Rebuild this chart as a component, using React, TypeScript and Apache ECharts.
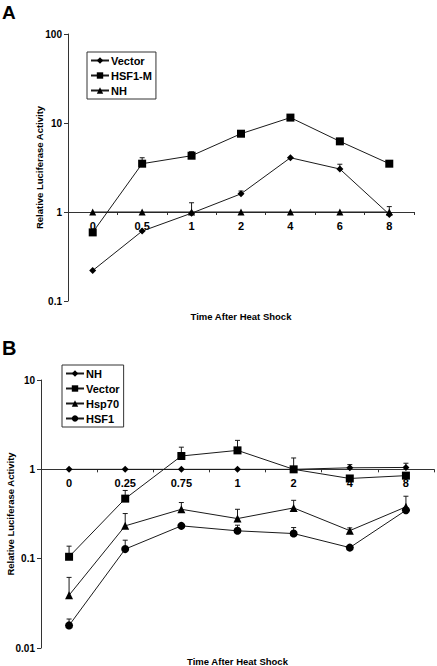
import React, { useEffect, useRef } from "react";
import * as echarts from "echarts";

// Panel A
const catsA = ["0", "0.5", "1", "2", "4", "6", "8"];
const vectorA = [0.22, 0.61, 0.97, 1.6, 4.07, 3.04, 0.94];
const vectorAErr = [null, null, 1.27, 1.72, null, 3.44, 1.15];
const hsf1mA = [0.59, 3.49, 4.29, 7.58, 11.5, 6.22, 3.49];
const hsf1mAErr = [null, 4.07, 4.76, null, null, null, null];
const nhA = [1, 1, 1, 1, 1, 1, 1];

// Panel B
const catsB = ["0", "0.25", "0.75", "1", "2", "4", "8"];
const nhB = [1, 1, 1, 1, 1, 1.04, 1.05];
const nhBErr = [null, null, null, null, null, 1.13, 1.17];
const vectorB = [0.105, 0.47, 1.41, 1.63, 1.0, 0.79, 0.85];
const vectorBErr = [0.138, 0.58, 1.77, 2.11, 1.34, null, null];
const hsp70B = [0.039, 0.233, 0.357, 0.281, 0.37, 0.206, 0.38];
const hsp70BErr = [0.0617, 0.32, 0.425, 0.357, 0.45, 0.221, 0.5];
const hsf1B = [0.0179, 0.128, 0.233, 0.205, 0.191, 0.133, 0.348];
const hsf1BErr = [0.0211, 0.161, null, 0.237, 0.223, null, null];

const FONT = "'Liberation Sans', Arial, sans-serif";
const INK = "#1a1a1a";

function errData(vals: number[], tops: (number | null)[]) {
  const out: number[][] = [];
  tops.forEach((t, i) => {
    if (t != null) out.push([i, t, vals[i]]);
  });
  return out;
}

function errSeries(vals: number[], tops: (number | null)[]) {
  return {
    type: "custom",
    data: errData(vals, tops),
    encode: { x: 0, y: 1 },
    z: 1,
    silent: true,
    renderItem: (_p: any, api: any) => {
      const i = api.value(0);
      const a = api.coord([i, api.value(2)]);
      const b = api.coord([i, api.value(1)]);
      const st = { stroke: INK, lineWidth: 1 };
      return {
        type: "group",
        children: [
          { type: "line", shape: { x1: a[0], y1: a[1], x2: b[0], y2: b[1] }, style: st },
          { type: "line", shape: { x1: b[0] - 2.5, y1: b[1], x2: b[0] + 2.5, y2: b[1] }, style: st },
        ],
      };
    },
  };
}

function lineSeries(name: string, data: number[], symbol: string, size: number) {
  return {
    name,
    type: "line",
    data,
    symbol,
    symbolSize: size,
    z: 3,
    lineStyle: { color: INK, width: 1 },
    itemStyle: { color: "#000" },
    emphasis: { disabled: true },
  };
}

function baseOption(
  cats: string[],
  grid: { left: number; top: number; width: number; height: number },
  yMin: number,
  yMax: number,
  legendBox: { left: number; top: number },
  legendNames: string[],
  series: any[],
  xNameGap: number,
  yNameGap: number,
  letter: string,
  letterSize: number
) {
  const decades = Math.log10(yMax) - Math.log10(yMin);
  const onePos = (Math.log10(yMax) / decades) * grid.height;
  const offset = -(grid.height - onePos);
  return {
    animation: false,
    textStyle: { fontFamily: FONT },
    grid: { ...grid, containLabel: false, outerBoundsMode: "none" },
    graphic: [
      {
        type: "text",
        left: 2,
        top: 3,
        style: { text: letter, font: `bold ${letterSize}px ${FONT}`, fill: "#000" },
      },
    ],
    legend: {
      orient: "vertical",
      left: legendBox.left,
      top: legendBox.top,
      data: legendNames,
      itemWidth: 18,
      itemHeight: 8,
      itemGap: 4,
      padding: [3, 4, 3, 3],
      borderColor: "#333",
      borderWidth: 1,
      selectedMode: false,
      textStyle: { fontFamily: FONT, fontWeight: "bold", fontSize: 11, color: "#000", padding: [0, 0, 0, -3] },
    },
    xAxis: {
      type: "category",
      data: cats,
      boundaryGap: true,
      offset,
      axisLine: { lineStyle: { color: "#333", width: 1 } },
      axisTick: { show: true, length: 3, lineStyle: { color: "#333" } },
      axisLabel: { fontFamily: FONT, fontWeight: "bold", fontSize: 11, color: "#000", margin: 8 },
      name: "Time After Heat Shock",
      nameLocation: "middle",
      nameGap: xNameGap,
      nameMoveOverlap: false,
      nameTextStyle: { fontFamily: FONT, fontWeight: "bold", fontSize: 9.5, color: "#000" },
      splitLine: { show: false },
    },
    yAxis: {
      type: "log",
      logBase: 10,
      min: yMin,
      max: yMax,
      axisLine: { show: true, lineStyle: { color: "#333", width: 1 } },
      axisTick: { show: true, length: 4, lineStyle: { color: "#333" } },
      axisLabel: { fontFamily: FONT, fontWeight: "bold", fontSize: 10, color: "#000", margin: 6 },
      splitLine: { show: false },
      name: "Relative Luciferase Activity",
      nameLocation: "middle",
      nameRotate: 90,
      nameGap: yNameGap,
      nameMoveOverlap: false,
      nameTextStyle: { fontFamily: FONT, fontWeight: "bold", fontSize: 9.5, color: "#000" },
    },
    series,
  };
}

function Chart({ option, style }: { option: any; style: React.CSSProperties }) {
  const ref = useRef<HTMLDivElement>(null);
  useEffect(() => {
    if (!ref.current) return;
    const c = echarts.init(ref.current, undefined, { renderer: "svg" });
    c.setOption(option);
    return () => c.dispose();
  }, [option]);
  return <div ref={ref} style={style} />;
}

const optionA = baseOption(
  catsA,
  { left: 68, top: 34, width: 346, height: 267 },
  0.1,
  100,
  { left: 87, top: 52 },
  ["Vector", "HSF1-M", "NH"],
  [
    lineSeries("Vector", vectorA, "diamond", 7),
    lineSeries("HSF1-M", hsf1mA, "rect", 8),
    lineSeries("NH", nhA, "triangle", 7),
    errSeries(vectorA, vectorAErr),
    errSeries(hsf1mA, hsf1mAErr),
  ],
  99,
  24,
  "A",
  19
);

const optionB = baseOption(
  catsB,
  { left: 41, top: 45, width: 393, height: 268 },
  0.01,
  10,
  { left: 62, top: 30 },
  ["NH", "Vector", "Hsp70", "HSF1"],
  [
    lineSeries("NH", nhB, "diamond", 7),
    lineSeries("Vector", vectorB, "rect", 8),
    lineSeries("Hsp70", hsp70B, "triangle", 8),
    lineSeries("HSF1", hsf1B, "circle", 8),
    errSeries(nhB, nhBErr),
    errSeries(vectorB, vectorBErr),
    errSeries(hsp70B, hsp70BErr),
    errSeries(hsf1B, hsf1BErr),
  ],
  187,
  26,
  "B",
  20
);

export default function App() {
  return (
    <div style={{ position: "absolute", left: 0, top: 0, width: 437, height: 666, background: "#fff" }}>
      <Chart option={optionA} style={{ position: "absolute", left: 0, top: 0, width: 437, height: 335 }} />
      <Chart option={optionB} style={{ position: "absolute", left: 0, top: 335, width: 437, height: 331 }} />
    </div>
  );
}
